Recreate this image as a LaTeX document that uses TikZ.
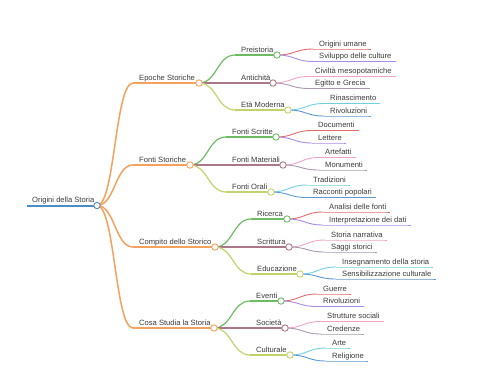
\documentclass[tikz,border=0pt]{standalone}
\usepackage{fontspec}
\setmainfont{Liberation Sans}
\usetikzlibrary{calc}
\pgfdeclarelayer{bg}\pgfsetlayers{bg,main}
\definecolor{textgray}{HTML}{3A3A3A}
\definecolor{cRoot}{HTML}{4C8DC6}
\definecolor{cOrange}{HTML}{F4A15D}
\definecolor{cGreen}{HTML}{6DBB63}
\definecolor{cMauve}{HTML}{A9798A}
\definecolor{cYG}{HTML}{C3D36A}
\definecolor{cRed}{HTML}{E46A6A}
\definecolor{cPurple}{HTML}{A88BE6}
\definecolor{cPink}{HTML}{F0A3C9}
\definecolor{cGray}{HTML}{A79AAE}
\definecolor{cCyan}{HTML}{6FD0E4}
\definecolor{cBlue}{HTML}{5E98D6}
\tikzset{
  txt/.style={inner sep=0pt, anchor=base west, font=\fontsize{7.6}{9}\selectfont, text=textgray},
  dot/.style={circle, draw=#1, fill=white, line width=0.9pt, minimum size=6.4pt, inner sep=0pt},
}
\newcommand\mmlink[4]{%
  \begin{pgfonlayer}{bg}\draw[#1, line width=#2] let \p1=(#3), \p2=(#4) in (\p1) .. controls ({(\x1+\x2)/2},\y1) and ({(\x1+\x2)/2},\y2) .. (\p2);\end{pgfonlayer}}
\newcommand\mmnode[7]{%
  \coordinate (#1s) at (#2,#3);
  \node[txt] (#1t) at ($(#1s)+(6,-3)$) {#7};
  \begin{pgfonlayer}{bg}\draw[#5, line width=#6] (#1s) -- (#4,#3);\end{pgfonlayer}
  \node[dot=#5] (#1) at (#4,#3) {};}
\newcommand\mmleaf[6]{%
  \coordinate (#1s) at (#3,#4);
  \node[txt] (#1) at ($(#1s)+(6,-3)$) {#6};
  \begin{pgfonlayer}{bg}\draw[#5, line width=0.9pt] (#1s) -- (#1s -| #1.east) -- ++(4,0);\end{pgfonlayer}
  \mmlink{#5}{0.9pt}{#2.center}{#1s}}
\begin{document}
\begin{tikzpicture}[x=1pt, y=-1pt]
\useasboundingbox (0,0) rectangle (480,384);
% root
\coordinate (Rs) at (27,205.5);
\node[txt] (Rt) at (32,202.5) {Origini della Storia};
\begin{pgfonlayer}{bg}\draw[cRoot, line width=2pt] (Rs) -- (97,205.5);\end{pgfonlayer}
\node[dot=cRoot] (R) at (97,205.5) {};
% level 1
\mmnode{E}{133}{83}{199}{cOrange}{1.5pt}{Epoche Storiche}
\mmnode{F}{133}{165}{190}{cOrange}{1.5pt}{Fonti Storiche}
\mmnode{C}{133}{247}{215}{cOrange}{1.5pt}{Compito dello Storico}
\mmnode{S}{133}{328}{214}{cOrange}{1.5pt}{Cosa Studia la Storia}
\mmlink{cOrange}{1.5pt}{R.center}{Es}
\mmlink{cOrange}{1.5pt}{R.center}{Fs}
\mmlink{cOrange}{1.5pt}{R.center}{Cs}
\mmlink{cOrange}{1.5pt}{R.center}{Ss}
% level 2
\mmnode{P}{235}{55}{277}{cGreen}{1.2pt}{Preistoria}
\mmnode{A}{235}{83}{273}{cMauve}{1.2pt}{Antichità}
\mmnode{M}{235}{110}{288}{cYG}{1.2pt}{Età Moderna}
\mmlink{cGreen}{1.2pt}{E.center}{Ps}
\mmlink{cMauve}{1.2pt}{E.center}{As}
\mmlink{cYG}{1.2pt}{E.center}{Ms}
\mmnode{FS}{226}{137}{276}{cGreen}{1.2pt}{Fonti Scritte}
\mmnode{FM}{226}{165}{283}{cMauve}{1.2pt}{Fonti Materiali}
\mmnode{FO}{226}{192}{271}{cYG}{1.2pt}{Fonti Orali}
\mmlink{cGreen}{1.2pt}{F.center}{FSs}
\mmlink{cMauve}{1.2pt}{F.center}{FMs}
\mmlink{cYG}{1.2pt}{F.center}{FOs}
\mmnode{RI}{251}{219}{287}{cGreen}{1.2pt}{Ricerca}
\mmnode{SC}{251}{247}{289}{cMauve}{1.2pt}{Scrittura}
\mmnode{ED}{251}{274}{300}{cYG}{1.2pt}{Educazione}
\mmlink{cGreen}{1.2pt}{C.center}{RIs}
\mmlink{cMauve}{1.2pt}{C.center}{SCs}
\mmlink{cYG}{1.2pt}{C.center}{EDs}
\mmnode{EV}{250}{301}{281}{cGreen}{1.2pt}{Eventi}
\mmnode{SO}{250}{328}{285}{cMauve}{1.2pt}{Società}
\mmnode{CU}{250}{355}{290}{cYG}{1.2pt}{Culturale}
\mmlink{cGreen}{1.2pt}{S.center}{EVs}
\mmlink{cMauve}{1.2pt}{S.center}{SOs}
\mmlink{cYG}{1.2pt}{S.center}{CUs}
% leaves
\mmleaf{l1}{P}{313}{49}{cRed}{Origini umane}
\mmleaf{l2}{P}{313}{61.5}{cPurple}{Sviluppo delle culture}
\mmleaf{l3}{A}{309}{76.5}{cPink}{Civiltà mesopotamiche}
\mmleaf{l4}{A}{309}{88.5}{cGray}{Egitto e Grecia}
\mmleaf{l5}{M}{324}{103.5}{cCyan}{Rinascimento}
\mmleaf{l6}{M}{324}{116}{cBlue}{Rivoluzioni}
\mmleaf{l7}{FS}{312}{130.5}{cRed}{Documenti}
\mmleaf{l8}{FS}{312}{143}{cPurple}{Lettere}
\mmleaf{l9}{FM}{319}{157.5}{cPink}{Artefatti}
\mmleaf{l10}{FM}{319}{170}{cGray}{Monumenti}
\mmleaf{l11}{FO}{307}{185}{cCyan}{Tradizioni}
\mmleaf{l12}{FO}{307}{197.5}{cBlue}{Racconti popolari}
\mmleaf{l13}{RI}{323}{212}{cRed}{Analisi delle fonti}
\mmleaf{l14}{RI}{323}{225}{cPurple}{Interpretazione dei dati}
\mmleaf{l15}{SC}{325}{240}{cPink}{Storia narrativa}
\mmleaf{l16}{SC}{325}{252}{cGray}{Saggi storici}
\mmleaf{l17}{ED}{336}{267}{cCyan}{Insegnamento della storia}
\mmleaf{l18}{ED}{336}{279}{cBlue}{Sensibilizzazione culturale}
\mmleaf{l19}{EV}{317}{294}{cRed}{Guerre}
\mmleaf{l20}{EV}{317}{306.5}{cPurple}{Rivoluzioni}
\mmleaf{l21}{SO}{321}{321.5}{cPink}{Strutture sociali}
\mmleaf{l22}{SO}{321}{334}{cGray}{Credenze}
\mmleaf{l23}{CU}{326}{348}{cCyan}{Arte}
\mmleaf{l24}{CU}{326}{361}{cBlue}{Religione}
\end{tikzpicture}
\end{document}
